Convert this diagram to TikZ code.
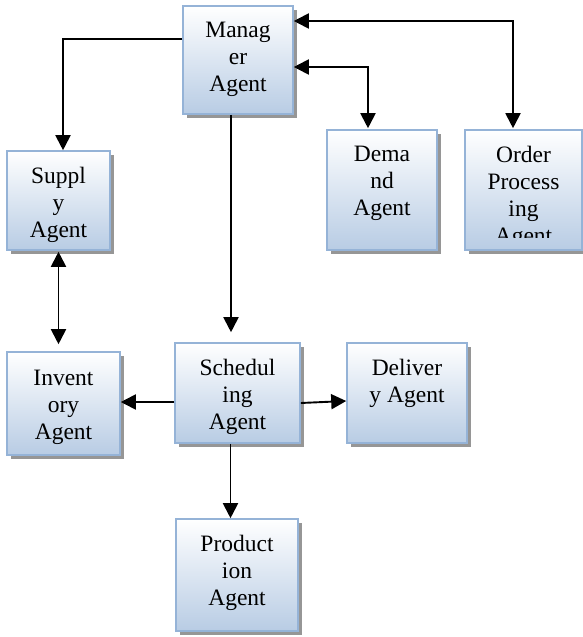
\documentclass[tikz,border=0pt]{standalone}
\usepackage{fontspec}
\setmainfont{Liberation Serif}
\usetikzlibrary{arrows.meta,shadows}

\definecolor{agentborder}{RGB}{149,179,215}
\definecolor{agentfill}{RGB}{184,204,228}
\definecolor{agentshadow}{RGB}{150,150,150}

\tikzset{
  agent/.style={draw=agentborder, line width=1.6pt,
    top color=white, bottom color=agentfill,
    rectangle, inner sep=0pt,
    general shadow={fill=agentshadow, shadow xshift=4pt, shadow yshift=-4pt}},
  agenttext/.style={anchor=north, inner sep=0pt, align=center,
    font=\fontsize{23.5}{27}\selectfont},
  link/.style={line width=1.9pt, draw=black},
  arr/.style={link, -{Triangle[length=15pt,width=15pt]}},
  dbl/.style={link, {Triangle[length=15pt,width=15pt]}-{Triangle[length=15pt,width=15pt]}}
}

\begin{document}
\begin{tikzpicture}[x=1pt,y=-1pt]
\useasboundingbox (0,0) rectangle (583,637);

% agent boxes
\node[agent, minimum width=110pt, minimum height=108pt] (m)  at (238,60)    {};
\node[agent, minimum width=103pt, minimum height=99pt]  (s)  at (58.5,200.5) {};
\node[agent, minimum width=110pt, minimum height=120pt] (dm) at (382,190)   {};
\node[agent, minimum width=117pt, minimum height=120pt] (o)  at (523.5,190) {};
\node[agent, minimum width=125pt, minimum height=100pt] (sc) at (237.5,393) {};
\node[agent, minimum width=120pt, minimum height=100pt] (dl) at (407,393)   {};
\node[agent, minimum width=122pt, minimum height=112pt] (p)  at (237,575)   {};
\node[agent, minimum width=113pt, minimum height=103pt] (i)  at (63.5,403.5) {};

% labels, set from the top of each box
\node[agenttext] (mt)  at ([yshift=-17pt]m.north)  {Manag\\er\\Agent};
\node[agenttext] (st)  at ([yshift=-17pt]s.north)  {Suppl\\y\\Agent};
\node[agenttext] (dmt) at ([yshift=-17pt]dm.north) {Dema\\nd\\Agent};
\begin{scope}
  \clip ([xshift=-60pt]o.north) rectangle ([xshift=60pt,yshift=-108pt]o.north);
  \node[agenttext] (ot) at ([yshift=-17pt]o.north) {Order\\Process\\ing\\Agent};
\end{scope}
\node[agenttext] (sct) at ([yshift=-17pt]sc.north) {Schedul\\ing\\Agent};
\node[agenttext] (dlt) at ([yshift=-17pt]dl.north) {Deliver\\y Agent};
\node[agenttext] (pt)  at ([yshift=-17pt]p.north)  {Product\\ion\\Agent};
\node[agenttext] (it)  at ([yshift=-19pt]i.north)  {Invent\\ory\\Agent};

% connectors
\draw[arr] ([yshift=21pt]m.west) -| ([xshift=4.5pt]s.north);
\draw[dbl] ([yshift=39pt]m.east) -| ([xshift=-10.5pt,yshift=1pt]o.north);
\draw[dbl] ([yshift=-7pt]m.east) -| ([xshift=-14pt,yshift=1pt]dm.north);
\draw[arr, shorten >=10pt] ([xshift=-7pt]m.south) -- ([xshift=-7pt]m.south |- sc.north);
\draw[dbl, shorten <=1pt, shorten >=7pt] (s.south) -- (s.south |- i.north);
\draw[arr] ([yshift=-9pt]sc.west) -- ([yshift=-9pt]sc.west -| i.east);
\draw[arr] ([yshift=-10pt]sc.east) -- ([yshift=-8pt]dl.west);
\draw[arr] ([xshift=-7pt]sc.south) -- ([xshift=-7pt]sc.south |- p.north);
\end{tikzpicture}
\end{document}
